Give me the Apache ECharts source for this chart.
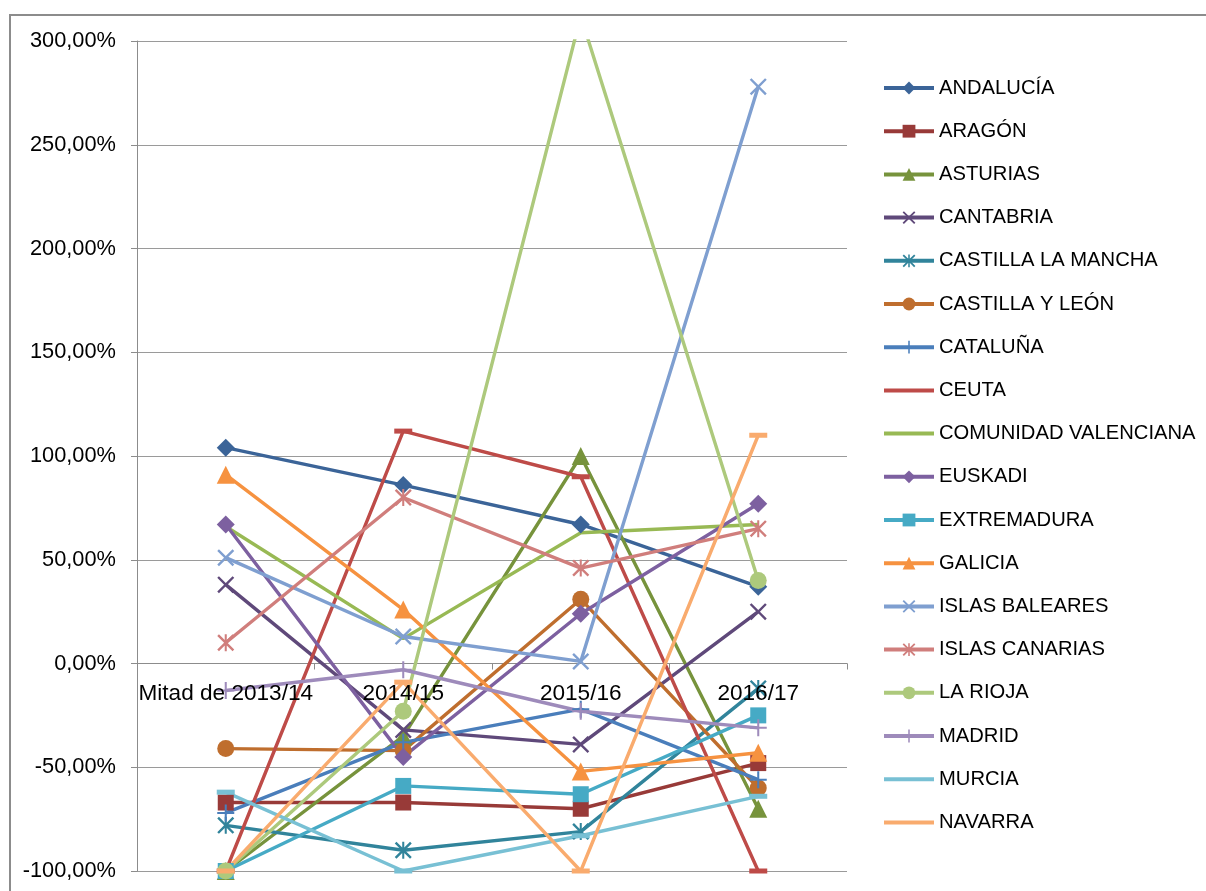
<!DOCTYPE html>
<html>
<head>
<meta charset="utf-8">
<script src="https://cdn.jsdelivr.net/npm/echarts@6/dist/echarts.min.js"></script>
<style>
  html, body { margin: 0; padding: 0; background: #ffffff; }
  #chart { width: 1206px; height: 891px; }
</style>
</head>
<body>
<div id="chart"></div>
<script>
// ---- data ----
const categories = ['Mitad de 2013/14', '2014/15', '2015/16', '2016/17'];
const yMin = -100, yMax = 300, yStep = 50;

const andalucia          = [104, 86, 67, 37];
const aragon             = [-67, -67, -70, -48];
const asturias           = [-100, -35, 100, -70];
const cantabria          = [38, -32, -39, 25];
const castillaLaMancha   = [-78, -90, -81, -12];
const castillaYLeon      = [-41, -42, 31, -60];
const cataluna           = [-72, -38, -22, -56];
const ceuta              = [-100, 112, 90, -100];
const comunidadValenciana= [66, 12, 63, 67];
const euskadi            = [67, -45, 24, 77];
const extremadura        = [-100, -59, -63, -25];
const galicia            = [91, 26, -52, -43];
const islasBaleares      = [51, 13, 1, 278];
const islasCanarias      = [10, 80, 46, 65];
const laRioja            = [-100, -23, 312, 40];
const madrid             = [-13, -3, -23, -31];
const murcia             = [-62, -100, -83, -64];
const navarra            = [-100, -9, -100, 110];

// ---- marker shapes ----
const X_PATH = 'path://M0,1L1,0L5,4L9,0L10,1L6,5L10,9L9,10L5,6L1,10L0,9L4,5Z';
const STAR_PATH = 'path://M0,1L1,0L5,4L9,0L10,1L6,5L10,9L9,10L5,6L1,10L0,9L4,5Z M4.4,0L5.6,0L5.6,10L4.4,10Z';
const PLUS_PATH = 'path://M4.4,0L5.6,0L5.6,4.4L10,4.4L10,5.6L5.6,5.6L5.6,10L4.4,10L4.4,5.6L0,5.6L0,4.4L4.4,4.4Z';

const seriesDefs = [
  { name: 'ANDALUCÍA', data: andalucia, color: '#3B6498', symbol: 'diamond', size: 18, legendMark: true },
  { name: 'ARAGÓN', data: aragon, color: '#983A38', symbol: 'rect', size: 16, legendMark: true },
  { name: 'ASTURIAS', data: asturias, color: '#77933C', symbol: 'triangle', size: 18, legendMark: true },
  { name: 'CANTABRIA', data: cantabria, color: '#5F497A', symbol: X_PATH, size: 17, legendMark: true },
  { name: 'CASTILLA LA MANCHA', data: castillaLaMancha, color: '#31849B', symbol: STAR_PATH, size: 17, legendMark: true },
  { name: 'CASTILLA Y LEÓN', data: castillaYLeon, color: '#BF6E2E', symbol: 'circle', size: 17, legendMark: true },
  { name: 'CATALUÑA', data: cataluna, color: '#4A7EBB', symbol: PLUS_PATH, size: 17, legendMark: true },
  { name: 'CEUTA', data: ceuta, color: '#BE4B48', symbol: 'rect', size: [18, 5], legendMark: false },
  { name: 'COMUNIDAD VALENCIANA', data: comunidadValenciana, color: '#98B954', symbol: 'none', size: 0, legendMark: false },
  { name: 'EUSKADI', data: euskadi, color: '#7D60A0', symbol: 'diamond', size: 18, legendMark: true },
  { name: 'EXTREMADURA', data: extremadura, color: '#46AAC5', symbol: 'rect', size: 16, legendMark: true },
  { name: 'GALICIA', data: galicia, color: '#F69240', symbol: 'triangle', size: 18, legendMark: true },
  { name: 'ISLAS BALEARES', data: islasBaleares, color: '#7F9FD0', symbol: X_PATH, size: 17, legendMark: true },
  { name: 'ISLAS CANARIAS', data: islasCanarias, color: '#D07E7C', symbol: STAR_PATH, size: 17, legendMark: true },
  { name: 'LA RIOJA', data: laRioja, color: '#ADC97C', symbol: 'circle', size: 17, legendMark: true },
  { name: 'MADRID', data: madrid, color: '#9E8BBB', symbol: PLUS_PATH, size: 17, legendMark: true },
  { name: 'MURCIA', data: murcia, color: '#78C0D4', symbol: 'rect', size: [18, 5], legendMark: false },
  { name: 'NAVARRA', data: navarra, color: '#F9AB6E', symbol: 'rect', size: [18, 5], legendMark: false }
];

const FONT = 'Liberation Sans, Arial, sans-serif';
const chart = echarts.init(document.getElementById('chart'), null, { renderer: 'canvas' });

const lineSeries = seriesDefs.map(s => ({
  name: s.name,
  type: 'line',
  data: s.data,
  clip: true,
  z: 2,
  symbol: s.symbol,
  symbolSize: s.size,
  showSymbol: s.symbol !== 'none',
  lineStyle: { color: s.color, width: 3.4 },
  itemStyle: { color: s.color, borderWidth: 0 },
  emphasis: { disabled: true }
}));

// category labels drawn at the y = 0 line (Excel axis crosses at zero)
const categoryLabelSeries = {
  name: '__catLabels',
  type: 'scatter',
  data: categories.map(c => ({ name: c, value: [c, 0] })),
  symbolSize: 0,
  silent: true,
  z: 20,
  zlevel: 1,
  itemStyle: { opacity: 1, color: '#000000' },
  label: {
    show: true,
    position: 'bottom',
    distance: 19,
    formatter: p => p.name,
    fontFamily: FONT,
    fontSize: 22.6,
    color: '#000000',
    opacity: 1
  },
  emphasis: { disabled: true }
};

chart.setOption({
  backgroundColor: '#ffffff',
  animation: false,
  graphic: [{
    type: 'rect',
    shape: { x: 10, y: 15, width: 1210, height: 900 },
    style: { fill: 'none', stroke: '#8c8c8c', lineWidth: 2 },
    silent: true, z: -10
  }],
  grid: { left: 137, top: 41, right: 359, bottom: 20, containLabel: false, outerBoundsMode: 'none' },
  legend: {
    orient: 'vertical',
    left: 882,
    top: 77,
    padding: 0,
    itemWidth: 50,
    itemHeight: 16,
    itemGap: 21.2,
    lineStyle: { width: 4 },
    textStyle: { fontFamily: FONT, fontSize: 20.2, color: '#000000', lineHeight: 22 },
    data: seriesDefs.map(s => s.legendMark
      ? { name: s.name }
      : { name: s.name, itemStyle: { opacity: 0 } })
  },
  xAxis: {
    type: 'category',
    data: categories,
    boundaryGap: true,
    axisLine: { onZero: true, lineStyle: { color: '#8c8c8c', width: 1 } },
    axisTick: { show: true, length: 6, alignWithLabel: false, lineStyle: { color: '#8c8c8c' } },
    axisLabel: { show: false },
    splitLine: { show: false }
  },
  yAxis: {
    type: 'value',
    min: yMin,
    max: yMax,
    interval: yStep,
    axisLine: { show: true, lineStyle: { color: '#8c8c8c', width: 1 } },
    axisTick: { show: true, length: 6, lineStyle: { color: '#8c8c8c' } },
    axisLabel: {
      fontFamily: FONT, fontSize: 21.8, color: '#000000', margin: 21,
      formatter: v => v.toFixed(2).replace('.', ',') + '%'
    },
    splitLine: { show: true, lineStyle: { color: '#9a9a9a', width: 1 } }
  },
  series: lineSeries.concat([categoryLabelSeries])
});
</script>
</body>
</html>
